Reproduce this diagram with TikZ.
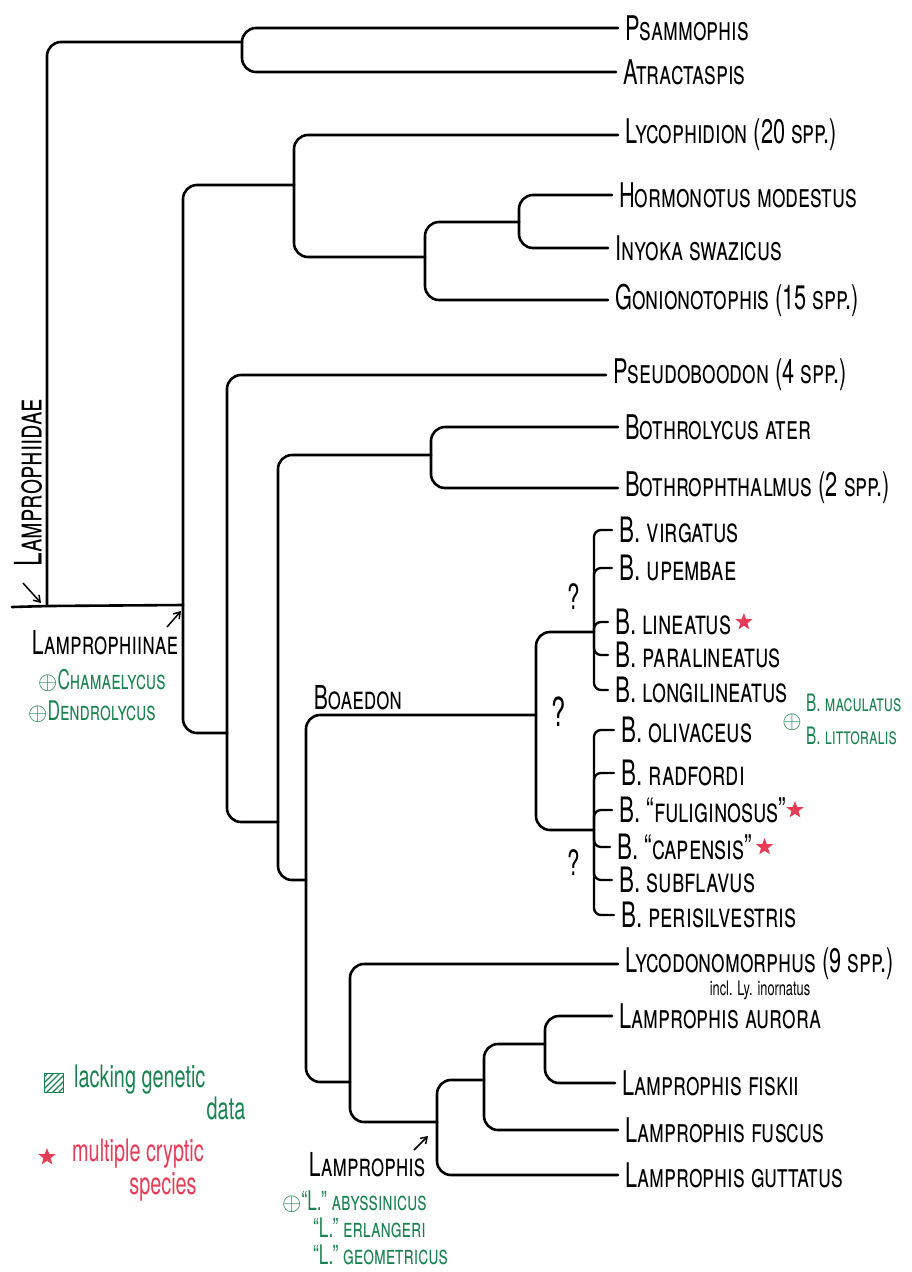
\documentclass[tikz,border=0pt]{standalone}
\usepackage{fontspec}
\setmainfont{TeX Gyre Heros}[FakeStretch=0.64]
\usetikzlibrary{positioning,shapes.geometric,arrows.meta}

\definecolor{penred}{RGB}{230,60,85}
\definecolor{pengreen}{RGB}{25,130,80}

\tikzset{
  branch/.style={line width=2.6pt, rounded corners=14pt, line cap=round},
  bracket/.style={line width=2.3pt, rounded corners=7pt, line cap=round},
  taxon/.style={anchor=west, inner xsep=7pt, inner ysep=0pt, font=\fontsize{34}{36}\selectfont\scshape},
  btaxon/.style={taxon, font=\fontsize{35}{37}\selectfont\scshape},
  clade/.style={font=\fontsize{33}{35}\selectfont\scshape},
  extinct/.style={text=pengreen, inner sep=0pt, font=\fontsize{27}{29}\selectfont\scshape},
  cryptic/.style={star, star points=5, star point ratio=2.4, fill=penred, inner sep=0pt, minimum size=18pt},
  note/.style={inner sep=0pt, font=\fontsize{31}{33}\selectfont},
  query/.style={font=\fontsize{35}{37}\selectfont},
  pointer/.style={-{Straight Barb[length=6pt,width=8pt]}, line width=1.5pt}
}

\begin{document}
\begin{tikzpicture}[x=1pt, y=-1pt]
    \useasboundingbox (0,0) rectangle (911,1272);

    % tips
    \node[taxon] (psam) at (618,28) {Psammophis};
    \node[taxon] (atra) at (616,72) {Atractaspis};
    \node[taxon] (lyco) at (618,135) {Lycophidion (20 spp.)};
    \node[taxon] (horm) at (612,195) {Hormonotus modestus};
    \node[taxon] (inyo) at (608,248) {Inyoka swazicus};
    \node[taxon] (goni) at (608,300) {Gonionotophis (15 spp.)};
    \node[taxon] (pseu) at (606,375) {Pseudoboodon (4 spp.)};
    \node[taxon] (both) at (618,427) {Bothrolycus ater};
    \node[taxon] (bthm) at (618,488) {Bothrophthalmus (2 spp.)};

    \node[btaxon] (bvir) at (612,530) {B. virgatus};
    \node[btaxon] (bupe) at (612,568) {B. upembae};
    \node[btaxon] (blin) at (608,622) {B. lineatus};
    \node[btaxon] (bpar) at (608,655) {B. paralineatus};
    \node[btaxon] (blon) at (608,690) {B. longilineatus};
    \node[btaxon] (boli) at (614,730) {B. olivaceus};
    \node[btaxon] (brad) at (614,773) {B. radfordi};
    \node[btaxon] (bful) at (612,810) {B. ``fuliginosus''};
    \node[btaxon] (bcap) at (610,847) {B. ``capensis''};
    \node[btaxon] (bsub) at (612,880) {B. subflavus};
    \node[btaxon] (bper) at (614,915) {B. perisilvestris};

    \node[taxon] (lycd) at (618,964) {Lycodonomorphus (9 spp.)};
    \node[note, font=\fontsize{20}{22}\selectfont] (incl) at (760,990) {incl. Ly. inornatus};
    \node[taxon] (laur) at (612,1016) {Lamprophis aurora};
    \node[taxon] (lfis) at (615,1083) {Lamprophis fiskii};
    \node[taxon] (lfus) at (618,1130) {Lamprophis fuscus};
    \node[taxon] (lgut) at (618,1175) {Lamprophis guttatus};

    % inner nodes
    \coordinate (stem) at (12,607);
    \coordinate (root) at (47,606);
    \coordinate (pa) at (242,42);
    \coordinate (lmp) at (183,605);
    \coordinate (lgh) at (294,185);
    \coordinate (hig) at (425,257);
    \coordinate (hi) at (519,222);
    \coordinate (c1) at (227,733);
    \coordinate (c2) at (278,822);
    \coordinate (bb) at (431,455);
    \coordinate (c3) at (306,880);
    \coordinate (boa) at (536,715);
    \coordinate (ug) at (594,632);
    \coordinate (lg) at (594,830);
    \coordinate (c4) at (350,1082);
    \coordinate (lam) at (437,1122);
    \coordinate (c5) at (484,1080);
    \coordinate (ck) at (545,1044);

    % branches
    \draw[branch] (stem) -- (root) -- (lmp);
    \draw[branch] (root) |- (pa);
    \draw[branch] (pa) |- (psam.west);
    \draw[branch] (pa) |- (atra.west);
    \draw[branch] (lmp) |- (lgh);
    \draw[branch] (lmp) |- (c1);
    \draw[branch] (lgh) |- (lyco.west);
    \draw[branch] (lgh) |- (hig);
    \draw[branch] (hig) |- (hi);
    \draw[branch] (hig) |- (goni.west);
    \draw[branch] (hi) |- (horm.west);
    \draw[branch] (hi) |- (inyo.west);
    \draw[branch] (c1) |- (pseu.west);
    \draw[branch] (c1) |- (c2);
    \draw[branch] (c2) |- (bb);
    \draw[branch] (c2) |- (c3);
    \draw[branch] (bb) |- (both.west);
    \draw[branch] (bb) |- (bthm.west);
    \draw[branch] (c3) |- (boa);
    \draw[branch] (c3) |- (c4);
    \draw[branch] (boa) |- (ug);
    \draw[branch] (boa) |- (lg);
    \draw[branch] (c4) |- (lycd.west);
    \draw[branch] (c4) |- (lam);
    \draw[branch] (lam) |- (c5);
    \draw[branch] (lam) |- (lgut.west);
    \draw[branch] (c5) |- (ck);
    \draw[branch] (c5) |- (lfus.west);
    \draw[branch] (ck) |- (laur.west);
    \draw[branch] (ck) |- (lfis.west);

    % Boaedon brackets
    \foreach \sp in {bvir,bupe,blin,bpar,blon}
        \draw[bracket] (ug) |- (\sp.west);
    \foreach \sp in {boli,brad,bful,bcap,bsub,bper}
        \draw[bracket] (lg) |- (\sp.west);

    \node[query] (q1) at (574,597) {?};
    \node[query, font=\fontsize{40}{42}\selectfont] (q2) at (559,712) {?};
    \node[query] (q3) at (574,863) {?};

    % cryptic species
    \node[cryptic, right=0pt of blin] (s1) {};
    \node[cryptic, right=-4pt of bful] (s2) {};
    \node[cryptic, right=0pt of bcap] (s3) {};

    % extra Boaedon
    \node[extinct] (xb) at (792,722) {$\oplus$};
    \node[extinct, anchor=west, font=\fontsize{24}{26}\selectfont\scshape] (bmac) at (806,703) {B. maculatus};
    \node[extinct, anchor=west, font=\fontsize{24}{26}\selectfont\scshape] (blit) at (806,736) {B. littoralis};

    % clade labels
    \node[clade, rotate=90, font=\fontsize{38}{40}\selectfont\scshape] (fam) at (28,483) {Lamprophiidae};
    \coordinate (fa) at (23,583);
    \coordinate (fb) at (41,603);
    \draw[pointer] (fa) -- (fb);
    \node[clade] (sub) at (105,643) {Lamprophiinae};
    \coordinate (sa) at (167,627);
    \coordinate (sb) at (181,611);
    \draw[pointer] (sa) -- (sb);
    \node[extinct, anchor=west] (cham) at (38,680) {$\oplus$Chamaelycus};
    \node[extinct, anchor=west] (dend) at (28,712) {$\oplus$Dendrolycus};
    \node[clade] (boaedon) at (358,698) {Boaedon};
    \node[clade] (lamp) at (367,1165) {Lamprophis};
    \coordinate (la) at (414,1150);
    \coordinate (lb) at (428,1136);
    \draw[pointer] (la) -- (lb);
    \node[extinct, anchor=west] (abys) at (282,1202) {$\oplus$``L.'' abyssinicus};
    \node[extinct, anchor=west] (erla) at (313,1228) {``L.'' erlangeri};
    \node[extinct, anchor=west] (geom) at (313,1255) {``L.'' geometricus};

    % key
    \node[draw=pengreen, line width=1.6pt, minimum size=19pt, inner sep=0pt,
          path picture={\foreach \k in {-16,-10,...,16}
              \draw[pengreen, line width=1.2pt] ([xshift=\k pt]path picture bounding box.south west) -- ++(20pt,20pt);}]
          (nodata) at (54,1083) {};
    \node[note, text=pengreen, anchor=west] (kg1) at (74,1080) {lacking genetic};
    \node[note, text=pengreen] (kg2) at (226,1108) {data};
    \node[cryptic] (kstar) at (47,1157) {};
    \node[note, text=penred, anchor=west] (kr1) at (72,1154) {multiple cryptic};
    \node[note, text=penred] (kr2) at (163,1187) {species};
\end{tikzpicture}
\end{document}
